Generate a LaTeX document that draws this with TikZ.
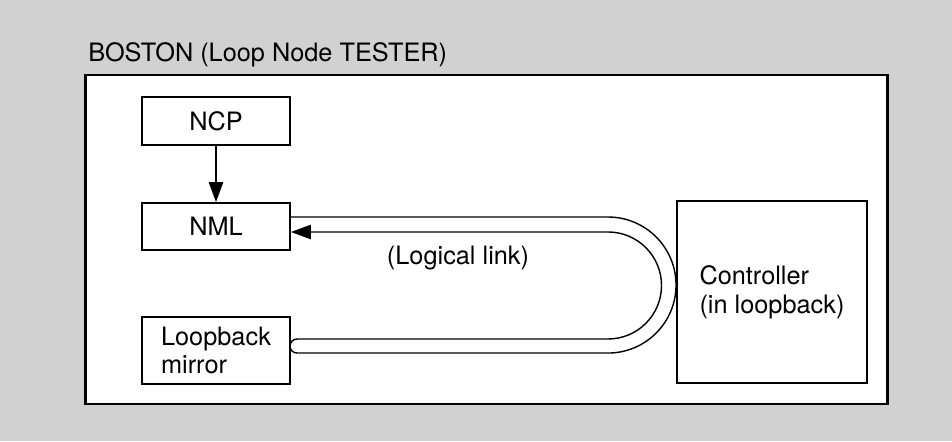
\documentclass[tikz,border=0pt]{standalone}
\usepackage{fontspec}
\setmainfont{TeX Gyre Heros}
\usetikzlibrary{arrows.meta}

\begin{document}
\begin{tikzpicture}
    [x=0.025cm,y=-0.025cm,
      font=\fontsize{18}{20.5}\selectfont,
      frame/.style={draw,line width=2pt,fill=white,minimum width=20.025cm,minimum height=8.225cm},
      unit/.style={draw,line width=1.3pt,fill=white,minimum width=3.7cm,inner sep=0pt},
      textunit/.style={unit,align=left},
      tube/.style={line width=1pt,-{Triangle[length=0.5cm,width=0.36cm]}},
      link/.style={line width=1pt,-{Triangle[length=0.5cm,width=0.36cm]}}
    ]

    \fill [black!18] (0,0) rectangle (952,441);
    \node [frame] (boston) at (486.5,239.5) {};
    \node [anchor=base west,inner sep=0pt] (title) at (88,61) {BOSTON (Loop Node TESTER)};

    \node [unit,minimum height=1.2cm] (ncp) at (216,121) {NCP};
    \node [unit,minimum height=1.175cm] (nml) at (216,226.5) {NML};
    \node [textunit,minimum height=1.675cm] (mirror) at (216,350.5) {Loopback\\mirror};
    \node [textunit,minimum width=4.75cm,minimum height=4.55cm]
          (ctrl) at (772,292) {Controller\\(in loopback)};

    \draw [link] (ncp) -- (nml);
    \draw [tube] (nml.east |- 0,217) -- (608,217)
          arc [start angle=90,end angle=-90,radius=1.7cm] -- (297,353)
          arc [start angle=270,end angle=90,radius=0.175cm] -- (608,339)
          arc [start angle=-90,end angle=90,radius=1.3375cm] -- (nml.east |- 0,232);
    \node (logical) at (458,258) {(Logical link)};
\end{tikzpicture}
\end{document}
